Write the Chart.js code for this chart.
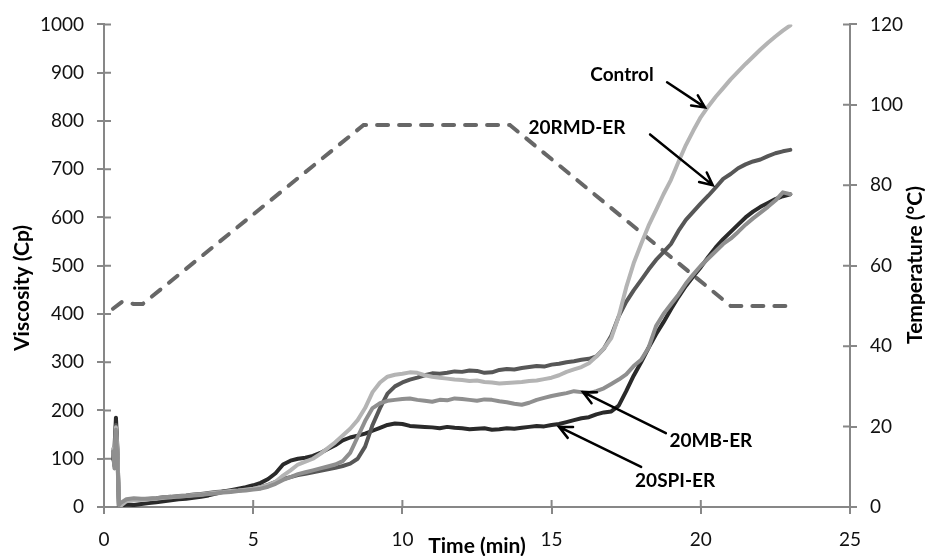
<!DOCTYPE html>
<html>
<head>
<meta charset="utf-8">
<script src="https://cdn.jsdelivr.net/npm/chart.js@4.4.1/dist/chart.umd.min.js"></script>
<style>
  body { margin: 0; background: #fff; }
  #wrap { width: 925px; height: 556px; }
</style>
</head>
<body>
<div id="wrap"><canvas id="viscChart" width="925" height="556"></canvas></div>
<script>
// Valores (tempo em min, viscosidade em Cp)
const timeMin = [0.3, 0.35, 0.4, 0.45, 0.5, 0.55, 0.75,
  1, 1.25, 1.5, 1.75, 2, 2.25, 2.5, 2.75, 3, 3.25, 3.5, 3.75, 4, 4.25, 4.5, 4.75,
  5, 5.25, 5.5, 5.75, 6, 6.25, 6.5, 6.75, 7, 7.25, 7.5, 7.75, 8, 8.25, 8.5, 8.75,
  9, 9.25, 9.5, 9.75, 10, 10.25, 10.5, 10.75, 11, 11.25, 11.5, 11.75, 12, 12.25, 12.5, 12.75,
  13, 13.25, 13.5, 13.75, 14, 14.25, 14.5, 14.75, 15, 15.25, 15.5, 15.75, 16, 16.25, 16.5, 16.75,
  17, 17.25, 17.5, 17.75, 18, 18.25, 18.5, 18.75, 19, 19.25, 19.5, 19.75, 20, 20.25, 20.5, 20.75,
  21, 21.25, 21.5, 21.75, 22, 22.25, 22.5, 22.75, 23];

const controlCp = [120, 90, 165, 120, 5, 2, 12,
  14, 15, 16, 17, 19, 20, 22, 23, 25, 26, 28, 30, 31, 33, 34, 36,
  38, 41, 45, 52, 65, 76, 88, 94, 100, 110, 122, 134, 148, 162, 180, 205,
  238, 258, 270, 274, 276, 279, 278, 273, 270, 268, 266, 264, 263, 261, 262, 259,
  258, 256, 257, 258, 259, 261, 262, 265, 268, 273, 280, 285, 290, 298, 312, 328,
  350, 395, 455, 505, 545, 583, 615, 648, 678, 715, 750, 780, 808, 830, 850, 868,
  886, 902, 918, 933, 948, 962, 975, 987, 998];

const rmdCp = [110, 85, 170, 110, 3, 5, 14,
  15, 16, 17, 18, 20, 21, 23, 24, 26, 27, 29, 31, 32, 33, 34, 36,
  38, 41, 46, 52, 58, 62, 66, 69, 72, 75, 78, 81, 85, 90, 100, 125,
  170, 205, 235, 250, 258, 264, 268, 273, 277, 276, 278, 281, 280, 283, 282, 278,
  279, 284, 286, 285, 288, 290, 292, 291, 295, 297, 300, 302, 305, 307, 312, 328,
  355, 395, 425, 449, 470, 492, 512, 528, 545, 572, 595, 612, 629, 645, 662, 680,
  690, 702, 710, 716, 720, 727, 733, 737, 740];

const mbCp = [115, 80, 160, 100, 4, 8, 16,
  18, 17, 17, 18, 20, 21, 22, 23, 24, 25, 27, 28, 30, 31, 33, 34,
  36, 38, 42, 48, 56, 62, 68, 72, 76, 80, 84, 88, 95, 112, 145, 178,
  205, 215, 220, 222, 224, 225, 222, 220, 218, 222, 221, 225, 224, 222, 220, 223,
  222, 219, 217, 214, 212, 216, 222, 226, 230, 233, 236, 240, 238, 236, 240, 246,
  255, 264, 275, 292, 305, 330, 375, 400, 420, 440, 463, 482, 500, 515, 530, 545,
  556, 570, 585, 598, 610, 622, 635, 652, 648];

const spiCp = [100, 120, 185, 120, 0, 2, 5,
  4, 6, 8, 10, 12, 14, 16, 17, 19, 21, 24, 28, 32, 35, 38, 41,
  45, 50, 58, 70, 88, 96, 100, 102, 106, 112, 120, 128, 138, 144, 148, 152,
  158, 164, 170, 173, 172, 168, 167, 166, 165, 163, 166, 164, 163, 161, 162, 163,
  160, 161, 163, 162, 164, 166, 168, 167, 170, 172, 176, 180, 184, 186, 192, 196,
  198, 210, 240, 272, 300, 330, 358, 383, 410, 435, 458, 478, 497, 518, 538, 555,
  570, 585, 600, 612, 622, 630, 638, 644, 648];

// Perfil de temperatura (eixo da direita)
const tempTime = [0.3, 0.6, 1.0, 1.3, 8.7, 13.6, 21.0, 23.0];
const tempC = [49.3, 51, 50.5, 50.5, 95, 95, 50, 50];

const xTicks = [0, 5, 10, 15, 20, 25];

const toPoints = (xs, ys) => xs.map((x, i) => ({ x: x, y: ys[i] }));

// Rótulos com setas (coordenadas nos eixos do gráfico)
const notes = [
  { text: 'Control', tx: 17.36, ty: 896, fx: 18.87, fy: 880, ax: 20.14, ay: 828 },
  { text: '20RMD-ER', tx: 15.85, ty: 785, fx: 18.3, fy: 772, ax: 20.4, ay: 667 },
  { text: '20MB-ER', tx: 20.34, ty: 137, fx: 18.83, fy: 153, ax: 16.05, ay: 238 },
  { text: '20SPI-ER', tx: 19.14, ty: 54, fx: 18.0, fy: 83, ax: 15.25, ay: 166 }
];

const axisColor = '#878787';
const font = 'Lato';
Chart.defaults.font.family = font;

const extrasPlugin = {
  id: 'extras',
  afterDraw(chart) {
    const ctx = chart.ctx;
    const x = chart.scales.x, y = chart.scales.y, y2 = chart.scales.y2;
    ctx.save();
    // marcas internas dos ticks (cruzando o eixo)
    ctx.strokeStyle = axisColor;
    ctx.lineWidth = 2;
    ctx.beginPath();
    xTicks.forEach(v => {
      const px = x.getPixelForValue(v);
      ctx.moveTo(px, x.top); ctx.lineTo(px, x.top - 7);
    });
    y.ticks.forEach(t => {
      const py = y.getPixelForValue(t.value);
      ctx.moveTo(y.right, py); ctx.lineTo(y.right + 7, py);
    });
    y2.ticks.forEach(t => {
      const py = y2.getPixelForValue(t.value);
      ctx.moveTo(y2.left, py); ctx.lineTo(y2.left - 7, py);
    });
    ctx.stroke();

    // títulos dos eixos
    ctx.fillStyle = '#000';
    ctx.textAlign = 'center';
    ctx.textBaseline = 'middle';
    ctx.font = 'bold 21px ' + font;
    ctx.fillText('Time (min)', 477, 546);
    ctx.save();
    ctx.translate(22, 288); ctx.rotate(-Math.PI / 2);
    ctx.fillText('Viscosity (Cp)', 0, 0);
    ctx.restore();
    ctx.save();
    ctx.translate(915, 265); ctx.rotate(-Math.PI / 2);
    ctx.fillText('Temperature (°C)', 0, 0);
    ctx.restore();

    // rótulos e setas
    ctx.font = 'bold 19px ' + font;
    ctx.strokeStyle = '#000';
    ctx.lineWidth = 2.5;
    ctx.lineCap = 'round';
    notes.forEach(n => {
      ctx.fillText(n.text, x.getPixelForValue(n.tx), y.getPixelForValue(n.ty));
      const x0 = x.getPixelForValue(n.fx), y0 = y.getPixelForValue(n.fy);
      const x1 = x.getPixelForValue(n.ax), y1 = y.getPixelForValue(n.ay);
      const ang = Math.atan2(y1 - y0, x1 - x0);
      ctx.beginPath();
      ctx.moveTo(x0, y0); ctx.lineTo(x1, y1);
      ctx.moveTo(x1 - 14 * Math.cos(ang - 0.45), y1 - 14 * Math.sin(ang - 0.45));
      ctx.lineTo(x1, y1);
      ctx.lineTo(x1 - 14 * Math.cos(ang + 0.45), y1 - 14 * Math.sin(ang + 0.45));
      ctx.stroke();
    });
    ctx.restore();
  }
};

const lineSet = (label, data, color, order) => ({
  label: label,
  data: toPoints(timeMin, data),
  borderColor: color,
  borderWidth: 4,
  pointRadius: 0,
  tension: 0,
  borderJoinStyle: 'round',
  borderCapStyle: 'round',
  yAxisID: 'y',
  order: order
});

const tickFont = { family: font, size: 19 };
const plainNum = v => String(v);

new Chart(document.getElementById('viscChart').getContext('2d'), {
  type: 'line',
  data: {
    datasets: [
      lineSet('Control', controlCp, '#b4b4b4', 2),
      lineSet('20RMD-ER', rmdCp, '#575757', 3),
      lineSet('20MB-ER', mbCp, '#8f8f8f', 1),
      lineSet('20SPI-ER', spiCp, '#2a2a2a', 4),
      {
        label: 'Temperature',
        data: toPoints(tempTime, tempC),
        borderColor: '#676767',
        borderWidth: 4,
        borderDash: [11, 11],
        borderCapStyle: 'round',
        pointRadius: 0,
        tension: 0,
        yAxisID: 'y2',
        order: 5
      }
    ]
  },
  options: {
    responsive: false,
    animation: false,
    layout: { padding: { top: 24, left: 0, right: 0, bottom: 0 } },
    plugins: { legend: { display: false }, tooltip: { enabled: false } },
    scales: {
      x: {
        type: 'linear', min: 0, max: 25,
        afterFit: s => { s.height = 49; },
        afterBuildTicks: s => { s.ticks = xTicks.map(v => ({ value: v })); },
        ticks: { font: tickFont, color: '#111', padding: 14, maxRotation: 0, callback: plainNum },
        grid: { drawOnChartArea: false, tickLength: 7, color: axisColor, lineWidth: 2 },
        border: { color: axisColor, width: 2 }
      },
      y: {
        position: 'left', min: 0, max: 1000,
        afterFit: s => { s.width = 104; },
        ticks: { stepSize: 100, font: tickFont, color: '#111', padding: 13, callback: plainNum },
        grid: { drawOnChartArea: false, tickLength: 7, color: axisColor, lineWidth: 2 },
        border: { color: axisColor, width: 2 }
      },
      y2: {
        position: 'right', min: 0, max: 120,
        afterFit: s => { s.width = 75; },
        ticks: { stepSize: 20, font: tickFont, color: '#111', padding: 13, callback: plainNum },
        grid: { drawOnChartArea: false, tickLength: 7, color: axisColor, lineWidth: 2 },
        border: { color: axisColor, width: 2 }
      }
    }
  },
  plugins: [extrasPlugin]
});
</script>
</body>
</html>
